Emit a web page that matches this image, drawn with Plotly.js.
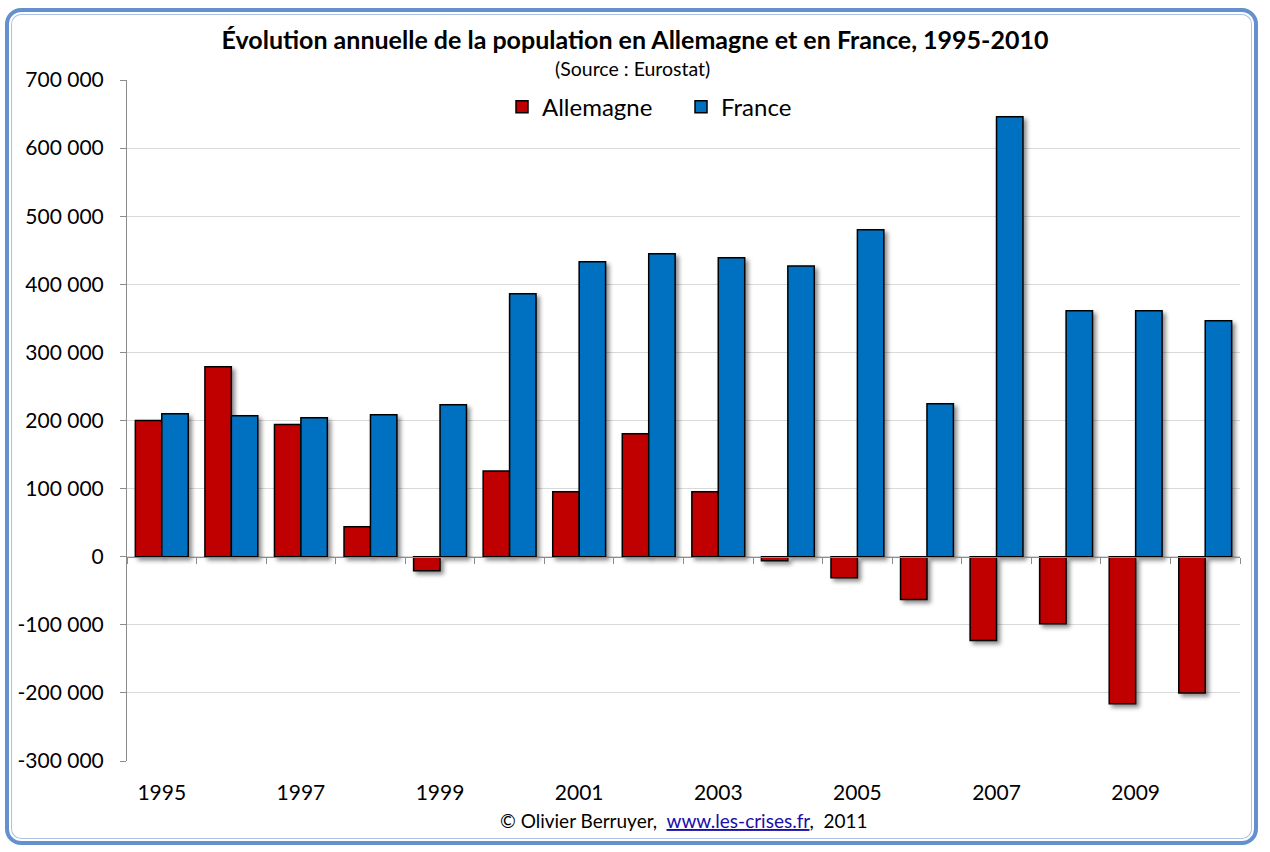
<!DOCTYPE html>
<html>
<head>
<meta charset="utf-8">
<script src="https://cdn.plot.ly/plotly-3.0.1.min.js"></script>
<style>
  html, body { margin: 0; padding: 0; background: #ffffff; }
  #wrap { position: relative; width: 1270px; height: 852px; }
  #chart { position: absolute; left: 0; top: 0; width: 1270px; height: 852px; }
  #frame {
    position: absolute; left: 5px; top: 8px; width: 1245px; height: 829px;
    border: 4px solid #6590cf; border-radius: 16px;
    box-shadow: inset 0 0 0 2px #ffffff, inset 0 0 0 3px #a9c3e8;
    pointer-events: none; z-index: 10;
  }
  .barlayer .point path { filter: drop-shadow(3px 3px 2px rgba(0,0,0,0.45)); }
</style>
</head>
<body>
<div id="wrap">
  <div id="chart"></div>
  <div id="frame"></div>
</div>
<script>
const years = [1995,1996,1997,1998,1999,2000,2001,2002,2003,2004,2005,2006,2007,2008,2009,2010];
const allemagne = [200000,279000,194000,44000,-20500,126000,95500,180500,95500,-6000,-31000,-63000,-123000,-98500,-216000,-200000];
const france = [210000,207000,204000,208500,223000,386000,433000,445000,439000,427000,480000,224500,646000,361000,361000,346500];
const xTickYears = [1995,1997,1999,2001,2003,2005,2007,2009];
const yTickVals = [-300000,-200000,-100000,0,100000,200000,300000,400000,500000,600000,700000];
const yTickLabels = ['-300 000','-200 000','-100 000','0','100 000','200 000','300 000','400 000','500 000','600 000','700 000'];
const boundaries = years.map(y => y - 0.5).concat([years[years.length-1] + 0.5]);

const font = 'Lato, "Open Sans", sans-serif';

const traces = [
  { type: 'bar', name: 'Allemagne', x: years, y: allemagne,
    marker: { color: '#c00000', line: { color: '#000000', width: 1.5 } } },
  { type: 'bar', name: 'France', x: years, y: france,
    marker: { color: '#0070c0', line: { color: '#000000', width: 1.5 } } },
  { type: 'scatter', x: [years[0]], y: [0], xaxis: 'x2', mode: 'markers',
    marker: { opacity: 0 }, showlegend: false, hoverinfo: 'skip' }
];

const layout = {
  width: 1270, height: 852,
  margin: { l: 127, r: 30, t: 80, b: 91 },
  paper_bgcolor: '#ffffff', plot_bgcolor: '#ffffff',
  font: { family: font, color: '#000000', size: 21 },
  title: { text: '<b>Évolution annuelle de la population en Allemagne et en France, 1995-2010</b>',
           font: { family: font, size: 25, color: '#000000' },
           x: 0.5, xanchor: 'center', xref: 'container', y: 1 - 40/852, yanchor: 'middle', yref: 'container' },
  barmode: 'group', bargap: 0.24, bargroupgap: 0,
  showlegend: true,
  legend: { orientation: 'h', x: (502 - 127) / 1113, xanchor: 'left', y: 0.96, yanchor: 'middle',
            font: { family: font, size: 24 }, bgcolor: 'rgba(0,0,0,0)', traceorder: 'normal',
            entrywidth: 134, entrywidthmode: 'pixels', itemwidth: 30 },
  xaxis: { range: [1994.5, 2010.5], tickvals: xTickYears, ticktext: xTickYears.map(String),
           ticks: '', showline: false, showgrid: false, zeroline: false,
           tickfont: { family: font, size: 21 }, ticklabelstandoff: 17 },
  xaxis2: { overlaying: 'x', anchor: 'free', position: 0.3, range: [1994.5, 2010.5],
            tickvals: boundaries, showticklabels: false, ticks: 'outside', ticklen: 6,
            tickcolor: '#8c8c8c', tickwidth: 1, showline: true, linecolor: '#8c8c8c', linewidth: 1,
            showgrid: false, zeroline: false },
  yaxis: { range: [-300000, 700000], tickvals: yTickVals, ticktext: yTickLabels,
           showgrid: true, gridcolor: '#d9d9d9', gridwidth: 1, zeroline: false,
           showline: true, linecolor: '#8c8c8c', linewidth: 1, ticks: 'outside', ticklen: 6,
           tickcolor: '#8c8c8c', tickfont: { family: font, size: 21 }, ticklabelstandoff: 12 },
  annotations: [
    { text: '(Source : Eurostat)', xref: 'paper', yref: 'paper', x: (632 - 127) / 1113, y: (761-68)/681,
      xanchor: 'center', yanchor: 'middle', showarrow: false, font: { family: font, size: 19.5 } },
    { text: '© Olivier Berruyer,  <span style="color:#1a0dab;text-decoration:underline">www.les-crises.fr</span>,  2011',
      xref: 'paper', yref: 'paper', x: (684 - 127) / 1113, y: (761-820)/681,
      xanchor: 'center', yanchor: 'middle', showarrow: false, font: { family: font, size: 19 } }
  ]
};

Plotly.newPlot('chart', traces, layout, { displayModeBar: false, staticPlot: true });
</script>
</body>
</html>
